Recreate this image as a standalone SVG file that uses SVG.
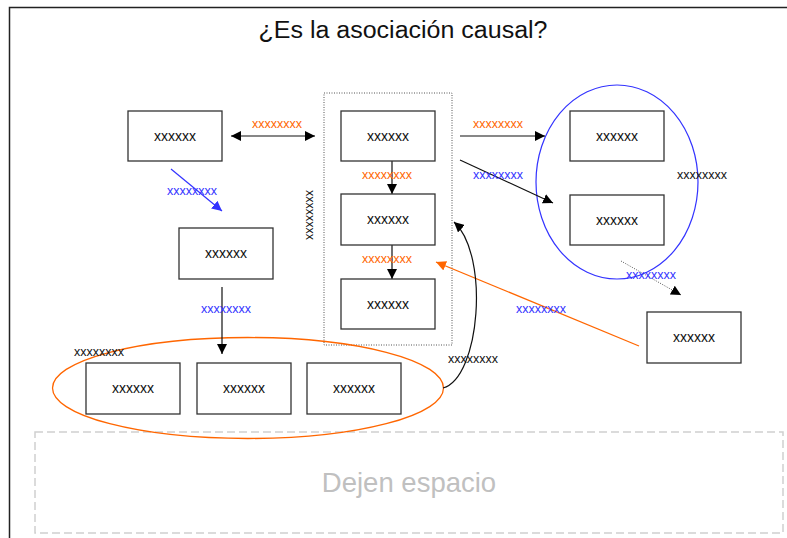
<svg xmlns="http://www.w3.org/2000/svg" width="787" height="538" viewBox="0 0 787 538">
<defs>
<style>
.box{fill:#fff;stroke:#333;stroke-width:1.3}
.bt{font-family:"Liberation Sans",Arial,sans-serif;font-size:14px;fill:#111;text-anchor:middle}
.lb{font-family:"Liberation Sans",Arial,sans-serif;font-size:12.5px;text-anchor:middle}
.or{fill:#ff6600}
.bl{fill:#3333ff}
.bk{fill:#111}
.ln{fill:none;stroke:#111;stroke-width:1.2}
</style>
<marker id="ak" markerUnits="userSpaceOnUse" markerWidth="12" markerHeight="10" refX="10" refY="5" orient="auto-start-reverse" viewBox="0 0 12 10"><path d="M0,0 L10,5 L0,10 Z" fill="#000"/></marker>
<marker id="ab" markerUnits="userSpaceOnUse" markerWidth="12" markerHeight="10" refX="10" refY="5" orient="auto" viewBox="0 0 12 10"><path d="M0,0 L10,5 L0,10 Z" fill="#3333ff"/></marker>
<marker id="ao" markerUnits="userSpaceOnUse" markerWidth="12" markerHeight="10" refX="10" refY="5" orient="auto" viewBox="0 0 12 10"><path d="M0,0 L10,5 L0,10 Z" fill="#ff6600"/></marker>
</defs>
<rect width="787" height="538" fill="#fff"/>
<path d="M9.5,538 V7.5 H787" fill="none" stroke="#222" stroke-width="1.5"/>
<text x="403" y="38" font-family="'Liberation Sans',Arial,sans-serif" font-size="23" text-anchor="middle" fill="#111" textLength="289" lengthAdjust="spacingAndGlyphs">¿Es la asociación causal?</text>

<rect x="35" y="432" width="748" height="101" fill="none" stroke="#d0d0d0" stroke-width="1.5" stroke-dasharray="8,4"/>
<text x="409" y="492" font-family="'Liberation Sans',Arial,sans-serif" font-size="27.5" text-anchor="middle" fill="#c0c0c0">Dejen espacio</text>

<rect x="324" y="93" width="128" height="252" fill="none" stroke="#555" stroke-width="1" stroke-dasharray="1,1.5"/>
<ellipse cx="617" cy="182" rx="81" ry="97" fill="none" stroke="#3333ff" stroke-width="1.2"/>
<ellipse cx="248" cy="388" rx="195.5" ry="50.5" fill="none" stroke="#ff6600" stroke-width="1.3"/>

<g id="connectors">
<line class="ln" x1="231" y1="136" x2="315" y2="136" marker-start="url(#ak)" marker-end="url(#ak)"/>
<line x1="171" y1="169" x2="222" y2="211" stroke="#3333ff" stroke-width="1.2" marker-end="url(#ab)"/>
<line class="ln" x1="392" y1="161" x2="392" y2="194" marker-end="url(#ak)"/>
<line class="ln" x1="392" y1="245" x2="392" y2="279" marker-end="url(#ak)"/>
<line class="ln" x1="222" y1="287" x2="222" y2="354" marker-end="url(#ak)"/>
<line class="ln" x1="460" y1="136" x2="545" y2="136" marker-end="url(#ak)"/>
<line class="ln" x1="460" y1="160" x2="553" y2="203" marker-end="url(#ak)"/>
<line x1="621" y1="261" x2="681" y2="295" stroke="#555" stroke-width="1" stroke-dasharray="1,1.5" marker-end="url(#ak)"/>
<line x1="639" y1="346" x2="436" y2="262" stroke="#ff6600" stroke-width="1.3" marker-end="url(#ao)"/>
<path class="ln" d="M443,388 C480,378 490,255 454,222" marker-end="url(#ak)"/>
</g>

<g id="labels">
<text class="lb or" x="277" y="128">xxxxxxxx</text>
<text class="lb bl" x="192" y="195">xxxxxxxx</text>
<text class="lb bk" x="310" y="219" transform="rotate(90 310 215)">xxxxxxxx</text>
<text class="lb or" x="387" y="179">xxxxxxxx</text>
<text class="lb or" x="387" y="263">xxxxxxxx</text>
<text class="lb bl" x="226" y="313">xxxxxxxx</text>
<text class="lb bk" x="99" y="356">xxxxxxxx</text>
<text class="lb or" x="498" y="128">xxxxxxxx</text>
<text class="lb bl" x="498" y="179">xxxxxxxx</text>
<text class="lb bk" x="702" y="179">xxxxxxxx</text>
<text class="lb bl" x="651" y="279">xxxxxxxx</text>
<text class="lb bl" x="541" y="313">xxxxxxxx</text>
<text class="lb bk" x="473" y="363">xxxxxxxx</text>
</g>

<g id="nA"><rect class="box" x="128" y="111" width="94" height="50"/><text class="bt" x="175" y="141">xxxxxx</text></g>
<g id="nB"><rect class="box" x="341" y="111" width="94" height="50"/><text class="bt" x="388" y="141">xxxxxx</text></g>
<g id="nC"><rect class="box" x="341" y="194" width="94" height="51"/><text class="bt" x="388" y="224">xxxxxx</text></g>
<g id="nD"><rect class="box" x="341" y="279" width="94" height="50"/><text class="bt" x="388" y="309">xxxxxx</text></g>
<g id="nE"><rect class="box" x="179" y="228" width="94" height="51"/><text class="bt" x="226" y="258">xxxxxx</text></g>
<g id="nF"><rect class="box" x="86" y="363" width="94" height="51"/><text class="bt" x="133" y="393">xxxxxx</text></g>
<g id="nG"><rect class="box" x="197" y="363" width="94" height="51"/><text class="bt" x="244" y="393">xxxxxx</text></g>
<g id="nH"><rect class="box" x="307" y="363" width="94" height="51"/><text class="bt" x="354" y="393">xxxxxx</text></g>
<g id="nI"><rect class="box" x="570" y="111" width="94" height="50"/><text class="bt" x="617" y="141">xxxxxx</text></g>
<g id="nJ"><rect class="box" x="570" y="195" width="94" height="50"/><text class="bt" x="617" y="225">xxxxxx</text></g>
<g id="nK"><rect class="box" x="647" y="312" width="94" height="51"/><text class="bt" x="694" y="342">xxxxxx</text></g>
</svg>
